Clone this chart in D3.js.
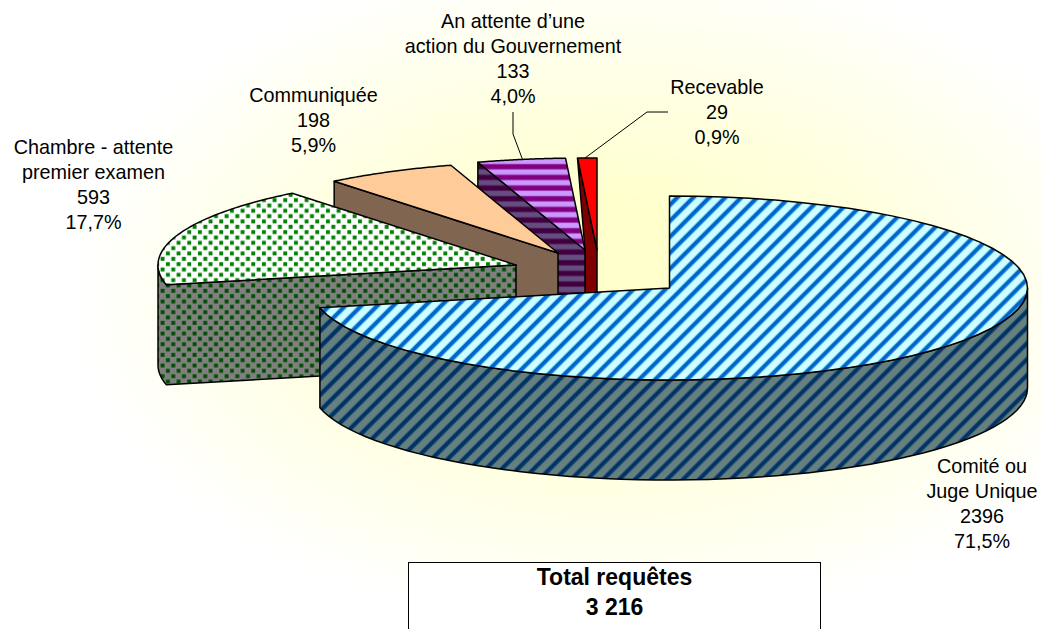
<!DOCTYPE html>
<html lang="fr">
<head>
<meta charset="utf-8">
<title>Requêtes</title>
<script src="https://cdn.jsdelivr.net/npm/d3@7/dist/d3.min.js"></script>
<style>
html,body{margin:0;padding:0;background:#fff;overflow:hidden}
svg{display:block}
text{font-family:"Liberation Sans",Arial,sans-serif;fill:#000}
</style>
</head>
<body>
<svg id="chart" width="1042" height="629"></svg>
<script>
// ---- data ----
const categories = ["Comité ou\nJuge Unique", "Chambre - attente\npremier examen", "Communiquée", "An attente d’une\naction du Gouvernement", "Recevable"];
const values = [2396, 593, 198, 133, 29];
const totalTitle = "Total requêtes";
const totalValue = 3216;

// ---- layout ----
const W = 1042, H = 629;
const pieCenterX = 669.5, pieCenterY = 288, radiusX = 358, radiusY = 92, depth = 100;
const explodeX = [0, -153.5, -111.5, -84.5, -72.5];
const explodeY = [0, -23, -35, -38, -38];
const labelX = [982, 93.5, 313.5, 513, 717];
const labelY = [473, 154, 102, 28, 94];
const labelStep = 25;
const leaders = [null, null, null,
  [[513, 112], [513, 134], [522.7, 160]],
  [[668, 112], [647, 112], [585, 158]]];

const svg = d3.select("#chart");
const defs = svg.append("defs");

// background: soft radial glow
const bg = defs.append("radialGradient").attr("id", "bgGlow")
  .attr("gradientUnits", "userSpaceOnUse").attr("cx", 0).attr("cy", 0).attr("r", 1)
  .attr("gradientTransform", "translate(610,290) scale(540,335)");
bg.append("stop").attr("offset", 0).attr("stop-color", "#FFFFCC");
bg.append("stop").attr("offset", 0.25).attr("stop-color", "#FFFFCC");
bg.append("stop").attr("offset", 1).attr("stop-color", "#FFFFFF");
svg.append("rect").attr("width", W).attr("height", H).attr("fill", "url(#bgGlow)");

// patterns
function stripes(id, a, b, period, rotate, stops) {
  const gid = id + "G";
  const g = defs.append("linearGradient").attr("id", gid).attr("x1", 0).attr("y1", 0).attr("x2", 0).attr("y2", 1);
  stops.forEach(([o, k]) => g.append("stop").attr("offset", o).attr("stop-color", k ? b : a));
  const p = defs.append("pattern").attr("id", id).attr("patternUnits", "userSpaceOnUse")
    .attr("width", period).attr("height", period);
  if (rotate) p.attr("patternTransform", `rotate(${rotate})`);
  p.append("rect").attr("width", period).attr("height", period).attr("fill", `url(#${gid})`);
}
const blueStops = [[0, 0], [.5, 0], [.62, 1], [.86, 1], [1, 0]];
stripes("blueTop", "#CCFFFF", "#0066CC", 11.3, -45, blueStops);
stripes("blueSide", "#668080", "#003366", 11.3, -45, blueStops);
const purpleStops = [[0, 0], [.3, 0], [.45, 1], [.8, 1], [.95, 0], [1, 0]];
stripes("purpleTop", "#CC99FF", "#800080", 10.67, 0, purpleStops);
stripes("purpleSide", "#664D80", "#400040", 10.67, 0, purpleStops);

defs.append("filter").attr("id", "soft").attr("x", "-20%").attr("y", "-20%").attr("width", "140%").attr("height", "140%")
  .append("feGaussianBlur").attr("stdDeviation", 0.45);
function dots(id, back, dot) {
  const T = 10.67;
  const p = defs.append("pattern").attr("id", id).attr("patternUnits", "userSpaceOnUse")
    .attr("width", T).attr("height", T);
  p.append("rect").attr("width", T).attr("height", T).attr("fill", back);
  const g = p.append("g").attr("filter", "url(#soft)").attr("fill", dot);
  [[0.6, 0.8], [5.9, 6.1]].forEach(([x, y]) =>
    g.append("rect").attr("x", x).attr("y", y).attr("width", 3.9).attr("height", 3.9));
}
dots("greenTop", "#FFFFFF", "#008000");
dots("greenSide", "#808080", "#005000");

const topFills = ["url(#blueTop)", "url(#greenTop)", "#FFCC99", "url(#purpleTop)", "#FF0000"];
const sideFills = ["url(#blueSide)", "url(#greenSide)", "#806650", "url(#purpleSide)", "#800000"];

// ---- geometry through d3 scales ----
const pie = d3.pie().sort(null).value(d => d).startAngle(0).endAngle(2 * Math.PI);
const arcs = pie(values);
const total = d3.sum(values);
const line = d3.line();

const slices = arcs.map((a, i) => {
  const sx = d3.scaleLinear().domain([-1, 1]).range([pieCenterX + explodeX[i] - radiusX, pieCenterX + explodeX[i] + radiusX]);
  const sy = d3.scaleLinear().domain([-1, 1]).range([pieCenterY + explodeY[i] - radiusY, pieCenterY + explodeY[i] + radiusY]);
  const at = t => [sx(Math.sin(t)), sy(-Math.cos(t))];
  const span = (t0, t1) => d3.range(0, 61).map(k => at(t0 + (t1 - t0) * k / 60));
  return { a, i, at, span, apex: [sx(0), sy(0)] };
});
const down = p => [p[0], p[1] + depth];
const closed = pts => line(pts) + "Z";

const gPie = svg.append("g").attr("stroke", "#000").attr("stroke-width", 1.5).attr("stroke-linejoin", "round");

// back-to-front: last slice first
slices.slice().reverse().forEach(s => {
  const { a, i, at, span, apex } = s;
  let side;
  if (i === 0) {
    const wall = span(Math.PI / 2, a.endAngle);
    side = wall.concat(wall.slice().reverse().map(down));
  } else {
    const t0 = a.startAngle;
    const wall = t0 < 1.5 * Math.PI ? span(t0, 1.5 * Math.PI) : [at(t0)];
    if (i === slices.length - 1) {
      // thin sliver: its inner edge meets the neighbouring apex
      const prev = slices[i - 1].apex;
      side = [at(t0), apex, down(apex), down(prev), prev];
    } else {
      side = [apex].concat(wall, wall.slice().reverse().map(down), [down(apex)]);
    }
  }
  gPie.append("path").attr("d", closed(side)).attr("fill", sideFills[i]);
  gPie.append("path").attr("d", closed([apex].concat(span(a.startAngle, a.endAngle)))).attr("fill", topFills[i]);
});

// ---- leader lines ----
leaders.forEach(l => {
  if (l) svg.append("path").attr("d", line(l)).attr("fill", "none").attr("stroke", "#000").attr("stroke-width", 1);
});

// ---- labels ----
const pct = d3.format(".1%");
categories.forEach((c, i) => {
  const lines = c.split("\n").concat([String(values[i]), pct(values[i] / total).replace(".", ",")]);
  const t = svg.append("text").attr("text-anchor", "middle").attr("font-size", 19.8);
  lines.forEach((ln, k) => t.append("tspan").attr("x", labelX[i]).attr("y", labelY[i] + k * labelStep).text(ln));
});

// ---- total box ----
svg.append("rect").attr("x", 408.5).attr("y", 562.5).attr("width", 412).attr("height", 90)
  .attr("fill", "#fff").attr("stroke", "#000").attr("stroke-width", 1);
const tt = svg.append("text").attr("text-anchor", "middle").attr("font-size", 23).attr("font-weight", "bold");
tt.append("tspan").attr("x", 614.5).attr("y", 585).text(totalTitle);
tt.append("tspan").attr("x", 614.5).attr("y", 615).text(d3.format(",")(totalValue).replace(",", " "));
</script>
</body>
</html>
